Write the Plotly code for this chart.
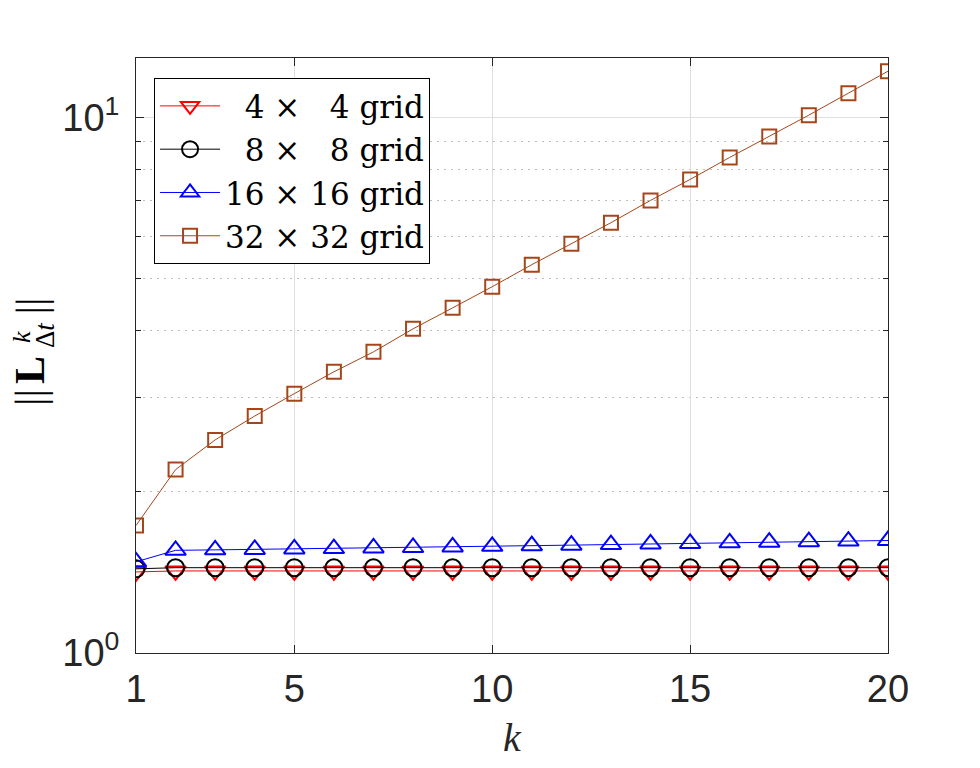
import plotly.graph_objects as go

# data
k = [1, 2, 3, 4, 5, 6, 7, 8, 9, 10, 11, 12, 13, 14, 15, 16, 17, 18, 19, 20]
grid_4 = [1.417, 1.423, 1.423, 1.423, 1.423, 1.423, 1.423, 1.423, 1.423, 1.423,
          1.423, 1.423, 1.423, 1.423, 1.423, 1.423, 1.423, 1.423, 1.423, 1.423]
grid_8 = [1.436, 1.443, 1.443, 1.443, 1.443, 1.443, 1.443, 1.443, 1.443, 1.443,
          1.443, 1.443, 1.443, 1.443, 1.443, 1.443, 1.443, 1.443, 1.443, 1.443]
grid_16 = [1.48, 1.555, 1.558, 1.561, 1.564, 1.567, 1.571, 1.574, 1.578, 1.582,
           1.586, 1.590, 1.594, 1.598, 1.602, 1.606, 1.610, 1.614, 1.618, 1.622]
grid_32 = [1.73, 2.20, 2.50, 2.77, 3.05, 3.35, 3.65, 4.03, 4.41, 4.83,
           5.31, 5.81, 6.36, 7.00, 7.66, 8.42, 9.21, 10.1, 11.1, 12.2]

nb = "\u00a0"
names = [nb + nb + "4" + nb + "\u00d7" + nb + nb + nb + "4 grid",
         nb + nb + "8" + nb + "\u00d7" + nb + nb + nb + "8 grid",
         "16" + nb + "\u00d7" + nb + "16 grid",
         "32" + nb + "\u00d7" + nb + "32 grid"]
colors = ["#ff0000", "#000000", "#0000ff", "#a5461a"]
symbols = ["triangle-down-open", "circle-open", "triangle-up-open", "square-open"]
sizes = [18, 17, 18, 14]

x_ticks = [1, 5, 10, 15, 20]
y_ticks = [1, 10]
y_ticktext = ["10<sup>0</sup>", "10<sup>1</sup>"]
y_minor = [2, 3, 4, 5, 6, 7, 8, 9]

fig = go.Figure()
for name, vals, col, sym, sz in zip(names, [grid_4, grid_8, grid_16, grid_32],
                                    colors, symbols, sizes):
    fig.add_trace(go.Scatter(
        x=k, y=vals, name=name, mode="lines+markers",
        line=dict(color=col, width=1),
        marker=dict(symbol=sym, size=sz, color=col, line=dict(color=col, width=2)),
    ))

axis_col = "#262626"
# page has an 8px body margin, so the figure is a bit smaller than the window
fig.update_layout(
    width=964, height=752,
    margin=dict(l=128, r=84, t=50, b=107),
    plot_bgcolor="white", paper_bgcolor="white",
    font=dict(family="Liberation Sans", color=axis_col),
    legend=dict(
        x=0.024, y=0.966, xanchor="left", yanchor="top",
        bgcolor="white", bordercolor="#000000", borderwidth=1,
        font=dict(family="DejaVu Serif", size=31, color="#000000"),
        tracegroupgap=0, itemwidth=60,
    ),
)
fig.update_xaxes(
    range=[1, 20], tickvals=x_ticks, automargin=False,
    showline=True, linecolor=axis_col, linewidth=1, mirror="ticks",
    ticks="inside", ticklen=8, tickcolor=axis_col,
    showgrid=True, gridcolor="#dfdfdf", gridwidth=1, zeroline=False,
    tickfont=dict(size=38, family="Liberation Sans"), ticklabelstandoff=2,
    title=dict(text="<i>k</i>", font=dict(family="Liberation Serif", size=40),
               standoff=18),
)
fig.update_yaxes(
    type="log", range=[0, 1.111], automargin=False,
    tickvals=y_ticks, ticktext=y_ticktext,
    showline=True, linecolor=axis_col, linewidth=1, mirror="ticks",
    ticks="inside", ticklen=8, tickcolor=axis_col,
    showgrid=True, gridcolor="#dfdfdf", gridwidth=1, zeroline=False,
    tickfont=dict(size=38, family="Liberation Sans"), ticklabelstandoff=8,
    minor=dict(tickvals=y_minor, ticks="inside", ticklen=5, tickcolor=axis_col,
               showgrid=True, gridcolor="#bdbdbd", griddash="2px,5px", gridwidth=1),
)

# y label ||L^k_{Δt}|| built from rotated pieces so the scripts can stack
plot_left, plot_mid = 136, 355.5
label_parts = [
    ("||", 42, 30, 398),
    ("<b>L</b>", 42, 30, 370),
    ("<i>k</i>", 26, 21.5, 337.5),
    ("\u0394<i>t</i>", 27, 45, 335),
    ("||", 42, 30, 306.5),
]
for txt, fs, px, py in label_parts:
    fig.add_annotation(
        text=txt, xref="paper", yref="paper", x=0, y=0.5,
        xshift=px - plot_left, yshift=plot_mid - py,
        xanchor="center", yanchor="middle", textangle=-90, showarrow=False,
        font=dict(family="Liberation Serif", size=fs, color="#000000"),
    )

fig.write_html("out.html")
